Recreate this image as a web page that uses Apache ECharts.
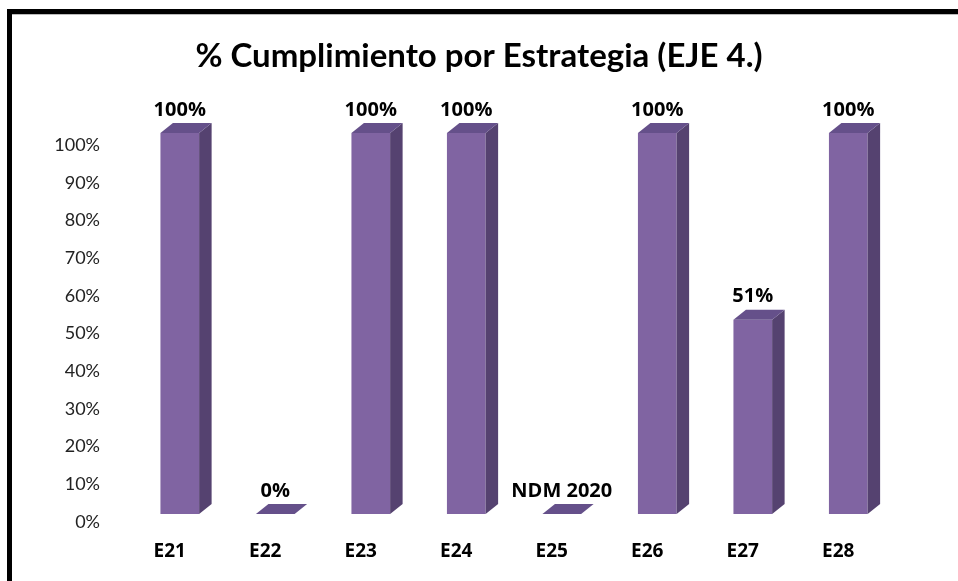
<!DOCTYPE html>
<html>
<head>
<meta charset="utf-8">
<script src="https://cdn.jsdelivr.net/npm/echarts@6/dist/echarts.min.js"></script>
<style>
html,body{margin:0;padding:0;background:#fff;}
#chart{width:958px;height:581px;}
</style>
</head>
<body>
<div id="chart"></div>
<script>
var categories = ['E21', 'E22', 'E23', 'E24', 'E25', 'E26', 'E27', 'E28'];
var values = [100, 0, 100, 100, 0, 100, 51, 100];
var valueLabels = ['100%', '0%', '100%', '100%', 'NDM 2020', '100%', '51%', '100%'];
var yTicks = [0, 10, 20, 30, 40, 50, 60, 70, 80, 90, 100];

var fontName = 'Lato';
var boldFont = 'Open Sans';
var chart = echarts.init(document.getElementById('chart'));

// barras 3D dibujadas a mano sobre la escala del eje
function renderBar(params, api) {
    var idx = api.value(0);
    var base = api.coord([idx, 0]);
    var top = api.coord([idx, api.value(1)]);
    var band = api.size([1, 0])[0];
    var w = band * 0.405;
    var cx = base[0] + band * 0.105;
    var dx = 12.5, dy = 10;
    var x0 = cx - w / 2, x1 = cx + w / 2;
    return {
        type: 'group',
        children: [
            {
                type: 'rect',
                shape: {x: x0, y: top[1], width: w, height: base[1] - top[1]},
                style: {fill: '#8064A2'}
            },
            {
                type: 'polygon',
                shape: {points: [[x1, top[1]], [x1 + dx, top[1] - dy], [x1 + dx, base[1] - dy], [x1, base[1]]]},
                style: {fill: '#554270'}
            },
            {
                type: 'polygon',
                shape: {points: [[x0, top[1]], [x0 + dx, top[1] - dy], [x1 + dx, top[1] - dy], [x1, top[1]]]},
                style: {fill: '#65508A'}
            },
            {
                type: 'text',
                x: cx,
                y: top[1] - dy - 3,
                style: {
                    text: valueLabels[idx],
                    fill: '#000',
                    font: 'bold 20px "' + boldFont + '"',
                    textAlign: 'center',
                    textVerticalAlign: 'bottom'
                }
            }
        ]
    };
}

var barData = [];
for (var i = 0; i < categories.length; i++) {
    barData.push([i, values[i]]);
}

var option = {
    backgroundColor: '#fff',
    animation: false,
    title: {
        text: '% Cumplimiento por Estrategia (EJE 4.)',
        left: 'center',
        top: 35,
        textStyle: {fontFamily: fontName, fontSize: 33, fontWeight: 'bold', color: '#000'}
    },
    graphic: [
        {type: 'rect', shape: {x: 7, y: 9, width: 951, height: 5}, style: {fill: '#000'}},
        {type: 'rect', shape: {x: 12, y: 14, width: 946, height: 1}, style: {fill: '#bbb'}},
        {type: 'rect', shape: {x: 7, y: 9, width: 5, height: 572}, style: {fill: '#000'}}
    ],
    grid: [
        {left: 122, right: 72, top: 133, bottom: 67},
        {left: 122, right: 72, top: 145, bottom: 59}
    ],
    xAxis: [
        {
            type: 'category',
            gridIndex: 0,
            data: categories,
            axisLine: {show: false},
            axisTick: {show: false},
            axisLabel: {
                margin: 28,
                color: '#000',
                fontFamily: boldFont,
                fontSize: 19,
                fontWeight: 'bold'
            }
        },
        {type: 'category', gridIndex: 1, data: categories, show: false}
    ],
    yAxis: [
        {type: 'value', gridIndex: 0, min: 0, max: 100, show: false},
        {
            type: 'value',
            gridIndex: 1,
            min: 0,
            max: 100,
            interval: 10,
            axisLine: {show: false},
            axisTick: {show: false},
            splitLine: {show: false},
            axisLabel: {
                margin: 22,
                color: '#222',
                fontFamily: fontName,
                fontSize: 18,
                formatter: function (v) {
                    return yTicks.indexOf(v) >= 0 ? v + '%' : '';
                }
            }
        }
    ],
    series: [
        {
            type: 'custom',
            xAxisIndex: 0,
            yAxisIndex: 0,
            renderItem: renderBar,
            data: barData,
            encode: {x: 0, y: 1}
        }
    ]
};
chart.setOption(option);
</script>
</body>
</html>
